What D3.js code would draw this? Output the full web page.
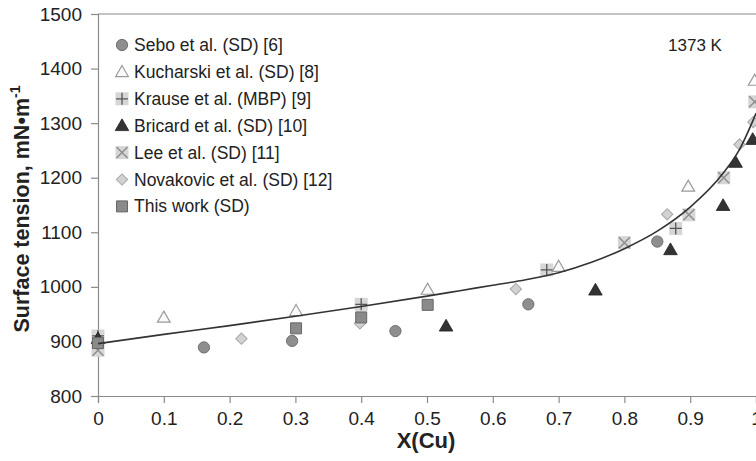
<!DOCTYPE html>
<html><head><meta charset="utf-8">
<script src="https://cdn.jsdelivr.net/npm/d3@7"></script>
<style>
html,body{margin:0;padding:0;background:#fff;}
svg{display:block;font-family:Arial,"Liberation Sans",sans-serif;}
</style></head>
<body><svg id="c" width="756" height="461"></svg>
<script>
// ---- data ----
const sebo      = [[0.161,889],[0.295,901],[0.452,919],[0.654,968],[0.85,1083]];
const kucharski = [[0.1,944],[0.301,956],[0.501,995],[0.70,1037],[0.897,1184],[0.998,1378]];
const krause    = [[0,910],[0.40,968],[0.682,1031],[0.878,1107]];
const bricard   = [[0,905],[0.529,928],[0.756,994],[0.87,1068],[0.95,1149],[0.969,1228],[0.995,1270]];
const lee       = [[0,884],[0.80,1081],[0.898,1132],[0.951,1200],[0.998,1339]];
const novakovic = [[0.218,905],[0.398,933],[0.635,996],[0.865,1133],[0.975,1261],[0.996,1302]];
const thisWork  = [[0,897],[0.301,924],[0.40,944],[0.501,967]];
const fitX = [0,0.1,0.2,0.3,0.4,0.5,0.55,0.6,0.65,0.7,0.75,0.8,0.85,0.9,0.95,0.975,1.0];
const fitY = [896,913,929,946,964,983,993,1003,1013,1026,1045,1070,1102,1146,1208,1252,1318];
const xTicks = [0,0.1,0.2,0.3,0.4,0.5,0.6,0.7,0.8,0.9,1];
const yTicks = [800,900,1000,1100,1200,1300,1400,1500];
const legendNames = ["Sebo et al. (SD) [6]","Kucharski et al. (SD) [8]","Krause et al. (MBP) [9]",
  "Bricard et al. (SD) [10]","Lee et al. (SD) [11]","Novakovic et al. (SD) [12]","This work (SD)"];
const legendKeys = ["circle","openTri","plusSq","darkTri","crossSq","diamond","square"];

const svg = d3.select("#c");
const x = d3.scaleLinear().domain([0,1]).range([98,756]);
const y = d3.scaleLinear().domain([800,1500]).range([396,14]);

// frame top line
svg.append("line").attr("x1",98).attr("x2",756).attr("y1",y(1500)).attr("y2",y(1500))
  .attr("stroke","#8a8a8a").attr("stroke-width",1.2);

const ax = svg.append("g").attr("transform","translate(0,396)")
  .call(d3.axisBottom(x).tickValues(xTicks).tickSize(7).tickPadding(9)
    .tickFormat(d=>d===0||d===1?String(d):d3.format(".1f")(d)));
const ay = svg.append("g").attr("transform","translate(98,0)")
  .call(d3.axisLeft(y).tickValues(yTicks).tickSize(7).tickPadding(9).tickFormat(d3.format("d")));
[ax,ay].forEach(g=>{
  g.select(".domain").attr("stroke","#8a8a8a").attr("stroke-width",1.2);
  g.selectAll(".tick line").attr("stroke","#8a8a8a").attr("stroke-width",1.2);
  g.selectAll(".tick text").attr("fill","#222").attr("font-size",19)
    .attr("font-family","Arial,'Liberation Sans',sans-serif");
});

// axis titles
svg.append("text").attr("x",426).attr("y",448).attr("text-anchor","middle")
  .attr("font-size",22).attr("font-weight","bold").attr("fill","#222").text("X(Cu)");
const yt = svg.append("text").attr("transform","translate(29,209) rotate(-90)")
  .attr("text-anchor","middle").attr("font-size",21.5).attr("font-weight","bold").attr("fill","#222");
yt.append("tspan").text("Surface tension, mN\u2022m");
yt.append("tspan").attr("dy",-9).attr("font-size",14).text("-1");

svg.append("text").attr("x",695).attr("y",51).attr("text-anchor","middle")
  .attr("font-size",17).attr("fill","#222").text("1373 K");

// marker drawing
function marker(g, key){
  switch(key){
    case "circle":
      g.append("path").attr("d",d3.symbol(d3.symbolCircle,100)()).attr("fill","#8e8e8e").attr("stroke","#707070").attr("stroke-width",1); break;
    case "openTri":
      g.append("path").attr("d",d3.symbol(d3.symbolTriangle,70)()).attr("transform","translate(0,1)")
        .attr("fill","#fafafa").attr("stroke","#9a9a9a").attr("stroke-width",1.2); break;
    case "darkTri":
      g.append("path").attr("d",d3.symbol(d3.symbolTriangle,80)()).attr("transform","translate(0,1)")
        .attr("fill","#333").attr("stroke","#222").attr("stroke-width",0.8); break;
    case "plusSq":
      g.append("rect").attr("x",-6.5).attr("y",-6.5).attr("width",13).attr("height",13).attr("fill","#d6d6d6");
      g.append("path").attr("d","M-6,0H6M0,-6V6").attr("stroke","#555").attr("stroke-width",1.3); break;
    case "crossSq":
      g.append("rect").attr("x",-6.5).attr("y",-6.5).attr("width",13).attr("height",13).attr("fill","#d6d6d6");
      g.append("path").attr("d","M-5.5,-5.5L5.5,5.5M-5.5,5.5L5.5,-5.5").attr("stroke","#8c8c8c").attr("stroke-width",1.4); break;
    case "diamond":
      g.append("path").attr("d",d3.symbol(d3.symbolSquare,64)()).attr("transform","rotate(45)")
        .attr("fill","#d2d2d2").attr("stroke","#a6a6a6").attr("stroke-width",1); break;
    case "square":
      g.append("path").attr("d",d3.symbol(d3.symbolSquare,121)()).attr("fill","#8a8a8a").attr("stroke","#666").attr("stroke-width",1); break;
  }
}
const series = [
  {data:krause,key:"plusSq"},{data:lee,key:"crossSq"},{data:kucharski,key:"openTri"},
  {data:novakovic,key:"diamond"},{data:sebo,key:"circle"},{data:bricard,key:"darkTri"},
  {data:thisWork,key:"square"}];
series.forEach(s=>{
  svg.append("g").selectAll("g").data(s.data).join("g")
    .attr("transform",d=>`translate(${x(d[0])},${y(d[1])})`)
    .each(function(){marker(d3.select(this),s.key);});
});

// model curve
const fit = fitX.map((v,i)=>[v,fitY[i]]);
svg.append("path").datum(fit).attr("fill","none").attr("stroke","#333").attr("stroke-width",1.6)
  .attr("d",d3.line().x(d=>x(d[0])).y(d=>y(d[1])).curve(d3.curveMonotoneX));

// legend
const lg = svg.append("g").selectAll("g").data(legendNames).join("g")
  .attr("transform",(d,i)=>`translate(122,${45+i*26.9})`);
lg.each(function(d,i){marker(d3.select(this),legendKeys[i]);});
lg.append("text").attr("x",12).attr("y",6).attr("font-size",17.5).attr("fill","#222").text(d=>d);
</script></body></html>
